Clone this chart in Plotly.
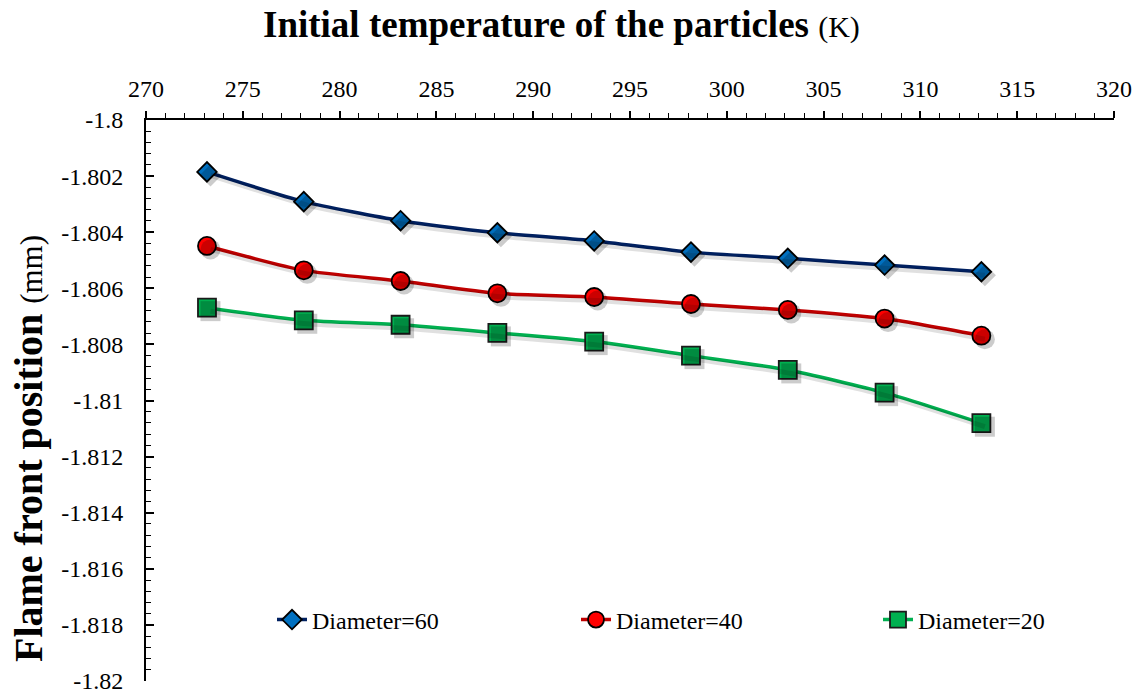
import plotly.graph_objects as go

# Initial particle temperature (K)
temperature = [273.15, 278.15, 283.15, 288.15, 293.15, 298.15, 303.15, 308.15, 313.15]

# Flame front position (mm) for each particle diameter
pos_d60 = [-1.80185, -1.80291, -1.80359, -1.80402, -1.80431, -1.80471, -1.80493, -1.80517, -1.80541]
pos_d40 = [-1.80449, -1.80536, -1.80574, -1.80618, -1.80631, -1.80656, -1.80677, -1.80708, -1.80769]
pos_d20 = [-1.80669, -1.80714, -1.80730, -1.80759, -1.80790, -1.80840, -1.80891, -1.80972, -1.81081]

series_names = ["Diameter=60", "Diameter=40", "Diameter=20"]

x_ticks = [270, 275, 280, 285, 290, 295, 300, 305, 310, 315, 320]
y_ticks = [-1.8, -1.802, -1.804, -1.806, -1.808, -1.81, -1.812, -1.814, -1.816, -1.818, -1.82]
y_tick_text = ["-1.8", "-1.802", "-1.804", "-1.806", "-1.808", "-1.81", "-1.812",
               "-1.814", "-1.816", "-1.818", "-1.82"]

W, H = 1138, 693
ML, MR, MT, MB = 146, 24, 120, 12
plot_w = W - ML - MR
plot_h = H - MT - MB
x_range = [270, 320]
y_range = [-1.82, -1.8]

# drop shadow offset (pixels) converted into data units for the overlay axes
sh_px = 3.5
dx = sh_px * (x_range[1] - x_range[0]) / plot_w
dy = sh_px * (y_range[1] - y_range[0]) / plot_h

styles = [
    dict(data=pos_d60, line="#002060", fill="#0070C0", symbol="diamond", size=15, edge="#000000"),
    dict(data=pos_d40, line="#C00000", fill="#FF0000", symbol="circle", size=18, edge="#000000"),
    dict(data=pos_d20, line="#00B050", fill="#00B050", symbol="square", size=18, edge="#1a1a1a"),
]

SERIF = "Liberation Serif"

fig = go.Figure()

# soft shadows drawn on shifted overlay axes
for s in styles:
    fig.add_trace(go.Scatter(
        x=temperature, y=s["data"], mode="lines+markers",
        line=dict(color="rgba(0,0,0,0.12)", width=5, shape="spline", smoothing=0.6),
        marker=dict(symbol=s["symbol"], size=s["size"] + 2, color="rgba(0,0,0,0.2)",
                    line=dict(width=0)),
        xaxis="x2", yaxis="y2", showlegend=False, hoverinfo="skip",
    ))

# legend boxes: left edge in pixels for each series
legend_left_px = [272, 576, 878]
legend_keys = ["legend", "legend2", "legend3"]

for name, s, key in zip(series_names, styles, legend_keys):
    fig.add_trace(go.Scatter(
        x=temperature, y=s["data"], mode="lines+markers", name=name, legend=key,
        line=dict(color=s["line"], width=3.5, shape="spline", smoothing=0.6),
        marker=dict(symbol=s["symbol"], size=s["size"], color=s["fill"],
                    line=dict(color=s["edge"], width=1.8)),
    ))

axis_font = dict(family=SERIF, size=24, color="#000000")
legend_font = dict(family=SERIF, size=24, color="#000000")
legend_y = 1 - (620 - MT) / plot_h

legend_layouts = {}
for key, left in zip(legend_keys, legend_left_px):
    legend_layouts[key] = dict(
        x=(left - ML) / plot_w, y=legend_y, xanchor="left", yanchor="middle",
        orientation="h", font=legend_font, bgcolor="rgba(0,0,0,0)", borderwidth=0,
    )

fig.update_layout(
    width=W, height=H,
    margin=dict(l=ML, r=MR, t=MT, b=MB, autoexpand=False),
    paper_bgcolor="white", plot_bgcolor="white",
    font=dict(family=SERIF, color="#000000"),
    showlegend=True,
    xaxis=dict(
        side="top", range=x_range, tickmode="array", tickvals=x_ticks,
        ticks="outside", ticklen=7, tickwidth=1.5, tickcolor="#000000",
        minor=dict(ticks="outside", ticklen=5, tickwidth=1.2, tickcolor="#000000", dtick=1),
        showline=True, linecolor="#000000", linewidth=2, showgrid=False, zeroline=False,
        tickfont=axis_font, ticklabelstandoff=4, ticklabeloverflow="allow", automargin=False,
    ),
    yaxis=dict(
        range=y_range, tickmode="array", tickvals=y_ticks, ticktext=y_tick_text,
        ticks="inside", ticklen=8, tickwidth=1.5, tickcolor="#000000",
        minor=dict(ticks="inside", ticklen=5, tickwidth=1.2, tickcolor="#000000", dtick=0.0004),
        showline=True, linecolor="#000000", linewidth=2, showgrid=False, zeroline=False,
        tickfont=axis_font, ticklabelstandoff=16, ticklabeloverflow="allow", automargin=False,
    ),
    xaxis2=dict(overlaying="x", range=[x_range[0] - dx, x_range[1] - dx], visible=False),
    yaxis2=dict(overlaying="y", range=[y_range[0] + dy, y_range[1] + dy], visible=False),
    annotations=[
        dict(text="<b>Initial temperature of the particles</b> <span style='font-size:30px'>(K)</span>",
             xref="paper", yref="paper", x=(561 - ML) / plot_w, y=1 + (MT - 25) / plot_h,
             xanchor="center", yanchor="middle", showarrow=False,
             font=dict(family=SERIF, size=37, color="#000000")),
        dict(text="<b>Flame front position</b> <span style='font-size:31px'>(mm)</span>",
             xref="paper", yref="paper", x=-(ML - 28) / plot_w, y=1 - (449 - MT) / plot_h,
             xanchor="center", yanchor="middle", textangle=-90, showarrow=False,
             font=dict(family=SERIF, size=40, color="#000000")),
    ],
    **legend_layouts,
)

fig.write_html("out.html")
